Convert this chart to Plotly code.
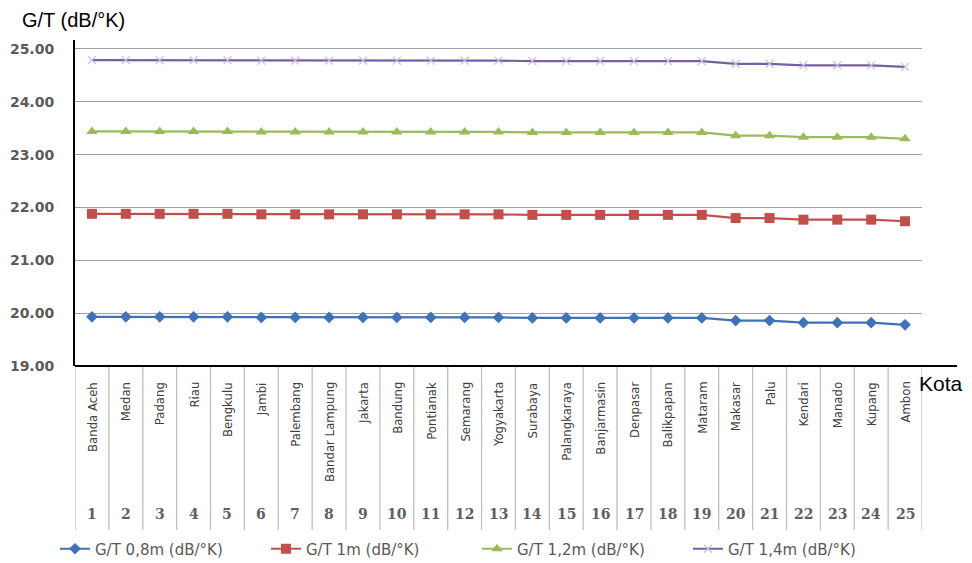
import plotly.graph_objects as go

cities = ["Banda Aceh", "Medan", "Padang", "Riau", "Bengkulu", "Jambi", "Palembang",
          "Bandar Lampung", "Jakarta", "Bandung", "Pontianak", "Semarang", "Yogyakarta",
          "Surabaya", "Palangkaraya", "Banjarmasin", "Denpasar", "Balikpapan", "Mataram",
          "Makasar", "Palu", "Kendari", "Manado", "Kupang", "Ambon"]
numbers = list(range(1, 26))

gt08 = [19.93, 19.93, 19.93, 19.93, 19.93, 19.92, 19.92, 19.92, 19.92, 19.92, 19.92, 19.92, 19.92,
        19.91, 19.91, 19.91, 19.91, 19.91, 19.91, 19.86, 19.86, 19.82, 19.82, 19.82, 19.78]
gt10 = [21.88, 21.88, 21.88, 21.88, 21.88, 21.87, 21.87, 21.87, 21.87, 21.87, 21.87, 21.87, 21.87,
        21.86, 21.86, 21.86, 21.86, 21.86, 21.86, 21.80, 21.80, 21.77, 21.77, 21.77, 21.74]
gt12 = [23.44, 23.44, 23.44, 23.44, 23.44, 23.43, 23.43, 23.43, 23.43, 23.43, 23.43, 23.43, 23.43,
        23.42, 23.42, 23.42, 23.42, 23.42, 23.42, 23.36, 23.36, 23.33, 23.33, 23.33, 23.30]
gt14 = [24.79, 24.79, 24.79, 24.79, 24.79, 24.78, 24.78, 24.78, 24.78, 24.78, 24.78, 24.78, 24.78,
        24.77, 24.77, 24.77, 24.77, 24.77, 24.77, 24.72, 24.72, 24.69, 24.69, 24.69, 24.66]
y_ticks = [19, 20, 21, 22, 23, 24, 25]

series = [
    ("G/T 0,8m (dB/°K)", gt08, "#3F72B8", dict(symbol="diamond", size=9, color="#3F72B8")),
    ("G/T 1m (dB/°K)", gt10, "#C0504D", dict(symbol="square", size=10, color="#C0504D")),
    ("G/T 1,2m (dB/°K)", gt12, "#9BBB59", dict(symbol="triangle-up", size=10, color="#9BBB59")),
    ("G/T 1,4m (dB/°K)", gt14, "#7660A2", dict(symbol="x-thin", size=8, color="#C8BCDD",
                                                line=dict(width=1.2, color="#C8BCDD"))),
]

fig = go.Figure()
for name, vals, col, mk in series:
    fig.add_trace(go.Scatter(x=numbers, y=vals, name=name, mode="lines+markers",
                             line=dict(color=col, width=2.2), marker=mk))

# plot area geometry (pixels)
H_PLOT = 326.0
W_PLOT = 847.0
bottom_lab = -(530 - 366) / H_PLOT

shapes = []
for i in range(26):
    shapes.append(dict(type="line", xref="x", yref="paper", x0=0.5 + i, x1=0.5 + i,
                       y0=0, y1=bottom_lab, line=dict(color="#BFBFBF", width=1.3)))
# extended black x-axis line
shapes.append(dict(type="line", xref="paper", yref="paper", x0=0, x1=(957 - 75) / W_PLOT, y0=0, y1=0,
                   line=dict(color="black", width=2)))

annotations = []
for n, c in zip(numbers, cities):
    annotations.append(dict(x=n, y=-(380 - 366) / H_PLOT, xref="x", yref="paper",
                            text=c, textangle=-90, showarrow=False, xanchor="center",
                            yanchor="top",
                            font=dict(family="DejaVu Sans Condensed, Liberation Sans", size=13,
                                      color="#404040")))
    annotations.append(dict(x=n, y=-(514 - 366) / H_PLOT, xref="x", yref="paper",
                            text=str(n), showarrow=False, xanchor="center", yanchor="middle",
                            font=dict(family="DejaVu Serif", size=14, color="#606060",
                                      weight="bold")))

annotations.append(dict(x=-(75 - 20) / W_PLOT, y=(366 - 20) / H_PLOT, xref="paper", yref="paper",
                        text="G/T (dB/°K)", showarrow=False, xanchor="left", yanchor="middle",
                        font=dict(family="Liberation Sans, Arial", size=20, color="black")))
annotations.append(dict(x=(917 - 75) / W_PLOT, y=-(384 - 366) / H_PLOT, xref="paper", yref="paper",
                        text="Kota", showarrow=False, xanchor="left", yanchor="middle",
                        font=dict(family="Liberation Sans, Arial", size=21, color="black")))

fig.update_layout(
    width=972, height=563,
    margin=dict(l=75, r=50, t=40, b=197, autoexpand=False),
    paper_bgcolor="white", plot_bgcolor="white",
    showlegend=True,
    legend=dict(orientation="h", x=-20 / W_PLOT, xanchor="left", y=-(549 - 366) / H_PLOT,
                yanchor="middle", font=dict(family="DejaVu Sans, Verdana", size=15, color="#595959"),
                entrywidth=166, entrywidthmode="pixels", bgcolor="rgba(0,0,0,0)"),
    xaxis=dict(range=[0.5, 25.5], showticklabels=False, showgrid=False, zeroline=False,
               showline=False, ticks=""),
    yaxis=dict(range=[19, 25.17], tickvals=y_ticks, tickformat=".2f", showgrid=True,
               gridcolor="#A0A0A0", gridwidth=1, zeroline=False, showline=True,
               linecolor="black", linewidth=2, ticks="", ticklabelstandoff=16,
               tickfont=dict(family="DejaVu Sans", size=14, color="#5A5A5A", weight="bold")),
    shapes=shapes,
    annotations=annotations,
)

fig.write_html("out.html")
